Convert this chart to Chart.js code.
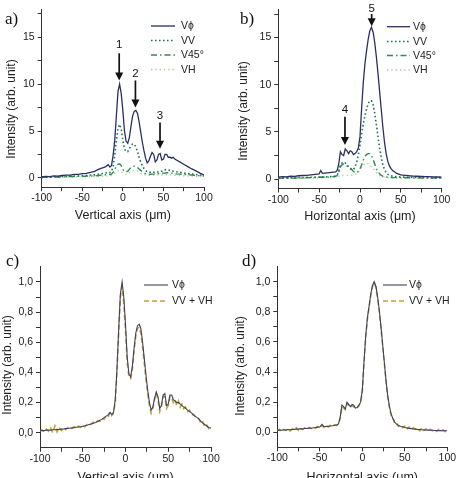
<!DOCTYPE html>
<html>
<head>
<meta charset="utf-8">
<script src="https://cdn.jsdelivr.net/npm/chart.js@4.4.1/dist/chart.umd.min.js"></script>
<style>
  html, body { margin: 0; padding: 0; background: #fff; width: 460px; height: 478px; overflow: hidden; }
  .panel { position: absolute; }
  .tag { position: absolute; font: 17px 'Liberation Serif', 'DejaVu Serif', serif; line-height: 17px; color: #111; }
</style>
</head>
<body>
<div class="panel" style="left:0;top:0"><canvas id="ca" width="230" height="240"></canvas></div>
<div class="panel" style="left:230px;top:0"><canvas id="cb" width="230" height="240"></canvas></div>
<div class="panel" style="left:0;top:240px"><canvas id="cc" width="230" height="260"></canvas></div>
<div class="panel" style="left:230px;top:240px"><canvas id="cd" width="230" height="260"></canvas></div>
<div class="tag" style="left:5px;top:10px">a)</div>
<div class="tag" style="left:240px;top:10px">b)</div>
<div class="tag" style="left:6px;top:252px">c)</div>
<div class="tag" style="left:242px;top:252px">d)</div>
<script>
// tick values and labels
const xTicks = [-100, -75, -50, -25, 0, 25, 50, 75, 100];
const xLabels = [-100, -50, 0, 50, 100];
const yTicksAB = [0, 2.5, 5, 7.5, 10, 12.5, 15, 17.5];
const yLabelsAB = [0, 5, 10, 15];
const yTicksCD = [0, 0.1, 0.2, 0.3, 0.4, 0.5, 0.6, 0.7, 0.8, 0.9, 1.0];
const yLabelsCD = [0, 0.2, 0.4, 0.6, 0.8, 1.0];
const yTitle = 'Intensity (arb. unit)';

// a) vertical profile
const aX = [-100,-95,-90,-85,-80,-75,-70,-65,-60,-55,-50,-45,-40,-35,-30,
  -27,-24,-21,-18,
  -16,-14,-12,-10,-8,-6,-4,-2,0,2,4,6,8,10,12,14,16,18,20,22,24,26,28,30,32,34,36,38,40,42,44,46,48,50,52,54,56,58,60,62,64,66,
  70,75,80,85,90,95,100];
const aVphi = [0.1,0.15,0.12,0.2,0.18,0.25,0.28,0.3,0.36,0.38,0.45,0.48,0.58,0.7,0.9,
  1.0,1.1,1.2,1.4,
  1.15,1.3,2.4,4.0,6.6,9.2,10.0,9.0,7.2,5.0,3.9,3.7,4.3,5.5,6.6,7.1,7.2,6.9,6.0,4.9,3.8,2.9,2.1,1.6,1.8,2.3,2.7,2.5,1.7,1.9,2.5,2.6,1.9,2.0,2.5,2.5,2.2,2.2,2.1,2.2,2.0,1.9,
  1.7,1.45,1.2,0.95,0.75,0.5,0.3];
const aVV = [0.05,0.1,0.08,0.12,0.1,0.15,0.14,0.18,0.2,0.2,0.25,0.25,0.3,0.32,0.38,
  0.42,0.48,0.52,0.6,
  0.55,0.7,1.2,2.4,4.0,5.3,5.7,5.2,4.0,3.1,2.8,2.8,3.1,3.4,3.6,3.6,3.3,2.8,2.2,1.7,1.3,1.0,0.8,0.65,0.6,0.6,0.65,0.6,0.55,0.6,0.65,0.7,0.7,0.8,0.85,0.9,0.85,0.8,0.75,0.7,0.7,0.65,
  0.6,0.5,0.45,0.4,0.35,0.3,0.25];
const aV45 = [0.05,0.08,0.06,0.1,0.08,0.12,0.1,0.14,0.13,0.16,0.15,0.18,0.2,0.22,0.25,
  0.28,0.3,0.33,0.35,
  0.36,0.4,0.6,0.9,1.2,1.45,1.5,1.3,0.9,0.7,0.65,0.7,0.9,1.1,1.2,1.25,1.2,1.1,0.95,0.8,0.65,0.55,0.45,0.4,0.4,0.38,0.4,0.4,0.4,0.42,0.45,0.45,0.48,0.5,0.52,0.55,0.55,0.52,0.5,0.48,0.45,0.42,
  0.4,0.36,0.33,0.3,0.25,0.22,0.2];
const aVH = [0.03,0.05,0.04,0.06,0.05,0.07,0.06,0.08,0.08,0.09,0.1,0.1,0.12,0.13,0.15,
  0.16,0.18,0.2,0.22,
  0.22,0.25,0.35,0.5,0.65,0.75,0.75,0.65,0.5,0.4,0.38,0.42,0.55,0.68,0.78,0.8,0.78,0.7,0.6,0.5,0.42,0.35,0.3,0.28,0.27,0.27,0.28,0.28,0.3,0.3,0.32,0.33,0.33,0.35,0.35,0.35,0.34,0.33,0.32,0.3,0.28,0.27,
  0.25,0.22,0.2,0.18,0.15,0.12,0.1];

// b) horizontal profile
const bX = [-100,-95,-90,-85,-80,-75,-70,-65,-60,-55,
  -50,-48,-46,-40,-35,-30,
  -28,-26,-24,-22,-20,-18,-16,-14,-12,-10,-8,-6,-4,-2,0,2,4,6,8,10,12,14,16,18,20,22,24,26,28,30,32,34,36,38,40,
  45,50,55,60,65,70,75,80,85,90,95,100];
const bVphi = [0.2,0.25,0.22,0.3,0.28,0.35,0.38,0.4,0.45,0.5,
  0.55,0.9,0.6,0.65,0.7,0.75,
  0.9,1.6,2.9,2.6,2.5,3.2,3.0,2.7,3.0,2.9,2.6,2.7,2.9,3.3,4.5,7.5,10.2,12.2,13.6,14.8,15.7,16.1,15.6,14.5,13.0,11.2,9.3,7.4,5.5,3.9,2.7,1.9,1.4,1.1,0.9,
  0.6,0.45,0.4,0.35,0.32,0.3,0.28,0.26,0.25,0.24,0.22,0.2];
const bVV = [0.1,0.12,0.1,0.14,0.13,0.16,0.15,0.18,0.2,0.2,
  0.22,0.3,0.23,0.25,0.28,0.3,
  0.4,0.8,1.5,1.7,1.6,1.7,1.5,1.3,1.1,1.0,1.0,1.3,1.8,2.6,3.6,4.8,5.8,6.7,7.4,8.0,8.3,8.3,7.9,7.0,5.8,4.5,3.3,2.3,1.5,1.0,0.7,0.5,0.4,0.35,0.3,
  0.25,0.22,0.2,0.2,0.18,0.18,0.17,0.16,0.16,0.15,0.15,0.15];
const bV45 = [0.08,0.1,0.09,0.12,0.1,0.13,0.12,0.15,0.15,0.17,
  0.18,0.22,0.19,0.2,0.22,0.3,
  0.35,0.7,1.3,1.5,1.6,1.5,1.4,1.3,1.2,1.0,0.8,0.7,0.65,0.8,1.1,1.5,2.0,2.4,2.6,2.7,2.7,2.5,2.1,1.6,1.1,0.8,0.55,0.4,0.3,0.25,0.22,0.2,0.18,0.17,0.16,
  0.15,0.15,0.14,0.14,0.13,0.13,0.12,0.12,0.12,0.11,0.11,0.1];
const bVH = [0.05,0.07,0.06,0.08,0.07,0.09,0.08,0.1,0.1,0.12,
  0.12,0.15,0.13,0.15,0.17,0.2,
  0.22,0.3,0.4,0.42,0.42,0.42,0.4,0.4,0.4,0.42,0.45,0.5,0.6,0.75,0.95,1.2,1.45,1.65,1.7,1.65,1.5,1.3,1.1,0.9,0.7,0.55,0.42,0.33,0.26,0.2,0.17,0.15,0.13,0.12,0.12,
  0.1,0.1,0.1,0.09,0.09,0.09,0.08,0.08,0.08,0.07,0.07,0.07];

// c) normalised vertical profile
const cX = [-100,-97.5,-95,-92.5,-90,-87.5,-85,-82.5,-80,-77.5,-75,-72.5,-70,-67.5,-65,-62.5,-60,-57.5,-55,-52.5,-50,-47.5,-45,-42.5,-40,-37.5,-35,-32.5,-30,-27.5,-25,-22.5,-20,
  -18,-16,-14,-12,-10,-8,-6,-4,-2,0,2,4,6,8,10,12,14,16,18,20,22,24,26,28,30,32,34,36,38,40,42,44,46,48,50,52,54,56,58,60,62,64,66,68,70,
  72.5,75,77.5,80,82.5,85,87.5,90,92.5,95,97.5,100];
const cVphi = [0.012,0.015,0.014,0.016,0.018,0.017,0.02,0.02,0.022,0.021,0.024,0.025,0.027,0.028,0.03,0.032,0.033,0.036,0.038,0.04,0.043,0.046,0.05,0.054,0.058,0.063,0.068,0.075,0.082,0.09,0.1,0.11,0.12,
  0.135,0.12,0.135,0.22,0.42,0.68,0.92,1.0,0.9,0.72,0.5,0.39,0.37,0.44,0.56,0.66,0.71,0.72,0.69,0.6,0.49,0.38,0.28,0.2,0.15,0.17,0.23,0.27,0.24,0.16,0.18,0.25,0.26,0.18,0.19,0.25,0.25,0.22,0.21,0.2,0.2,0.19,0.18,0.17,0.165,
  0.15,0.14,0.13,0.115,0.105,0.095,0.08,0.065,0.055,0.045,0.035,0.03];
const cSum = [0.01,0.02,0.005,0.025,0.01,0.03,0.0,0.045,0.005,0.035,0.015,0.03,0.02,0.035,0.025,0.03,0.04,0.03,0.045,0.035,0.05,0.04,0.055,0.05,0.06,0.07,0.065,0.08,0.075,0.095,0.09,0.115,0.11,
  0.14,0.115,0.13,0.2,0.4,0.66,0.9,0.97,0.86,0.68,0.47,0.37,0.36,0.42,0.54,0.64,0.69,0.7,0.66,0.57,0.46,0.35,0.26,0.18,0.13,0.16,0.22,0.26,0.22,0.14,0.17,0.24,0.24,0.16,0.18,0.24,0.23,0.2,0.22,0.18,0.21,0.17,0.19,0.16,0.17,
  0.14,0.15,0.12,0.12,0.1,0.1,0.07,0.08,0.04,0.05,0.025,0.035];

// d) normalised horizontal profile
const dX = [-100,-97.5,-95,-92.5,-90,-87.5,-85,-82.5,-80,-77.5,-75,-72.5,-70,-67.5,-65,-62.5,-60,-57.5,-55,-52.5,-50,-47.5,-45,-42.5,-40,-37.5,-35,-32.5,-30,
  -28,-26,-24,-22,-20,-18,-16,-14,-12,-10,-8,-6,-4,-2,0,2,4,6,8,10,12,14,16,18,20,22,24,26,28,30,32,34,36,38,40,
  42.5,45,47.5,50,52.5,55,57.5,60,62.5,65,67.5,70,72.5,75,77.5,80,82.5,85,87.5,90,92.5,95,97.5,100];
const dVphi = [0.012,0.014,0.013,0.016,0.015,0.018,0.017,0.02,0.019,0.022,0.021,0.024,0.022,0.026,0.025,0.028,0.027,0.03,0.031,0.034,0.035,0.052,0.037,0.039,0.04,0.042,0.043,0.046,0.048,
  0.055,0.1,0.18,0.17,0.155,0.2,0.185,0.17,0.185,0.18,0.16,0.165,0.18,0.2,0.28,0.47,0.64,0.76,0.84,0.92,0.975,1.0,0.97,0.9,0.81,0.7,0.58,0.46,0.34,0.24,0.17,0.12,0.09,0.07,0.055,
  0.045,0.04,0.036,0.032,0.029,0.026,0.024,0.022,0.021,0.019,0.018,0.017,0.016,0.015,0.014,0.013,0.013,0.012,0.012,0.011,0.011,0.01,0.01,0.01];
const dSum = [0.01,0.02,0.005,0.018,0.012,0.025,0.008,0.02,0.015,0.03,0.012,0.025,0.018,0.03,0.02,0.032,0.025,0.035,0.028,0.038,0.03,0.045,0.032,0.042,0.035,0.046,0.04,0.05,0.045,
  0.06,0.09,0.17,0.16,0.15,0.19,0.18,0.165,0.175,0.17,0.155,0.16,0.175,0.2,0.27,0.46,0.63,0.75,0.83,0.91,0.97,0.99,0.965,0.89,0.8,0.69,0.57,0.45,0.33,0.23,0.16,0.11,0.1,0.06,0.065,
  0.04,0.05,0.03,0.04,0.02,0.035,0.015,0.03,0.02,0.025,0.01,0.028,0.012,0.022,0.005,0.02,0.01,0.018,0.005,0.02,0.008,0.015,0.005,0.012];

Chart.defaults.font.family = "'Liberation Sans', Arial, sans-serif";
Chart.defaults.color = '#222';

const pts = (xs, ys) => xs.map((x, i) => ({ x, y: ys[i] }));

// line styles
const sPhi = { borderColor: '#2c2f63', borderWidth: 1.3, borderDash: [] };
const sVV = { borderColor: '#1f7752', borderWidth: 1.6, borderDash: [1.6, 2.4] };
const s45 = { borderColor: '#2f8c52', borderWidth: 1.4, borderDash: [6, 3, 1.5, 3] };
const sVH = { borderColor: '#9fcf95', borderWidth: 1.3, borderDash: [1.3, 3] };
const sPhi2 = { borderColor: '#3d4262', borderWidth: 1.1, borderDash: [] };
const sSum = { borderColor: '#c4a03c', borderWidth: 1.6, borderDash: [5, 3] };

function ds(label, data, st) {
  return Object.assign({ label, data, pointRadius: 0, fill: false, tension: 0 }, st);
}

// y title, legend and arrow annotations
const marks = {
  id: 'marks',
  afterDraw(chart, args, o) {
    const { ctx } = chart;
    const { x, y } = chart.scales;
    ctx.save();
    if (o.title) {
      ctx.save();
      ctx.translate(o.title.x, o.title.y);
      ctx.rotate(-Math.PI / 2);
      ctx.fillStyle = '#222';
      ctx.font = "12px 'Liberation Sans', Arial, sans-serif";
      ctx.textAlign = 'center';
      ctx.textBaseline = 'middle';
      ctx.fillText(yTitle, 0, 0);
      ctx.restore();
    }
    (o.arrows || []).forEach(a => {
      const px = x.getPixelForValue(a.x);
      const y0 = y.getPixelForValue(a.from);
      const y1 = y.getPixelForValue(a.to);
      ctx.strokeStyle = '#111';
      ctx.fillStyle = '#111';
      ctx.lineWidth = 1.7;
      ctx.setLineDash([]);
      ctx.beginPath();
      ctx.moveTo(px, y0);
      ctx.lineTo(px, y1 - 6);
      ctx.stroke();
      ctx.beginPath();
      ctx.moveTo(px - 4, y1 - 8);
      ctx.lineTo(px + 4, y1 - 8);
      ctx.lineTo(px, y1);
      ctx.closePath();
      ctx.fill();
      ctx.font = "11.5px 'Liberation Sans', Arial, sans-serif";
      ctx.textAlign = 'center';
      ctx.textBaseline = 'middle';
      ctx.fillText(a.label, px, y.getPixelForValue(a.at));
    });
    const lg = o.legend;
    if (lg) {
      chart.data.datasets.forEach((d, i) => {
        const ly = lg.ys[i];
        ctx.strokeStyle = d.borderColor;
        ctx.lineWidth = d.borderWidth;
        ctx.setLineDash(d.borderDash || []);
        ctx.beginPath();
        ctx.moveTo(lg.x0, ly);
        ctx.lineTo(lg.x1, ly);
        ctx.stroke();
        ctx.setLineDash([]);
        ctx.fillStyle = '#222';
        ctx.font = "10.5px 'Liberation Sans', Arial, sans-serif";
        ctx.textAlign = 'left';
        ctx.textBaseline = 'middle';
        ctx.fillText(d.label, lg.xt, ly + 0.5);
      });
    }
    ctx.restore();
  }
};

function makeChart(id, c) {
  return new Chart(document.getElementById(id), {
    type: 'line',
    data: { datasets: c.datasets },
    options: {
      responsive: false,
      animation: false,
      events: [],
      layout: { padding: { top: c.top, right: c.right, left: 0, bottom: 0 } },
      plugins: {
        legend: { display: false },
        tooltip: { enabled: false },
        marks: { legend: c.legend, arrows: c.arrows || [], title: c.yTitle }
      },
      scales: {
        x: {
          type: 'linear', min: -100, max: 100,
          afterBuildTicks: s => { s.ticks = xTicks.map(v => ({ value: v })); },
          afterFit: s => { s.height = c.xH; },
          ticks: { autoSkip: false, maxRotation: 0, padding: 1, font: { size: 10.5 },
            callback: v => xLabels.includes(v) ? String(v) : '' },
          grid: { drawOnChartArea: false, drawTicks: true, tickLength: 4, color: '#333' },
          border: { display: true, color: '#333', width: 1 },
          title: { display: true, text: c.xTitle, font: { size: 12.5 }, padding: { top: 0, bottom: c.xTitlePad } }
        },
        y: {
          type: 'linear', min: c.yMin, max: c.yMax,
          afterBuildTicks: s => { s.ticks = c.yTicks.map(v => ({ value: v })); },
          afterFit: s => { s.width = c.yW; },
          ticks: { autoSkip: false, padding: 3, font: { size: 10.5 },
            callback: v => c.yLabels.some(l => Math.abs(l - v) < 1e-6) ? c.yFmt(v) : '' },
          grid: { drawOnChartArea: false, drawTicks: true, tickLength: 4, color: '#333' },
          border: { display: true, color: '#333', width: 1 },
          title: { display: false }
        }
      }
    },
    plugins: [marks]
  });
}

const fmtInt = v => String(v);
const fmtComma = v => v.toFixed(1).replace('.', ',');

makeChart('ca', {
  datasets: [ds('Vϕ', pts(aX, aVphi), sPhi), ds('VV', pts(aX, aVV), sVV), ds('V45°', pts(aX, aV45), s45), ds('VH', pts(aX, aVH), sVH)],
  yMin: -1, yMax: 18, yTicks: yTicksAB, yLabels: yLabelsAB, yFmt: fmtInt,
  top: 6.5, right: 26, yW: 41.7, xH: 52.8, xTitlePad: 17,
  yTitle: { x: 12, y: 109 },
  xTitle: 'Vertical axis (μm)',
  legend: { x0: 151, x1: 175, xt: 181, ys: [26, 40.5, 55, 69.5] },
  arrows: [
    { label: '1', x: -4.5, at: 14.2, from: 13.3, to: 10.4 },
    { label: '2', x: 15.5, at: 11.1, from: 10.4, to: 7.5 },
    { label: '3', x: 45.8, at: 6.6, from: 5.9, to: 3.1 }
  ]
});

makeChart('cb', {
  datasets: [ds('Vϕ', pts(bX, bVphi), sPhi), ds('VV', pts(bX, bVV), sVV), ds('V45°', pts(bX, bV45), s45), ds('VH', pts(bX, bVH), sVH)],
  yMin: -1, yMax: 18, yTicks: yTicksAB, yLabels: yLabelsAB, yFmt: fmtInt,
  top: 8.2, right: 18.3, yW: 48.3, xH: 51.5, xTitlePad: 16,
  yTitle: { x: 14, y: 111 },
  xTitle: 'Horizontal axis (μm)',
  legend: { x0: 157, x1: 180, xt: 183, ys: [26.7, 41.5, 55.5, 70] },
  arrows: [
    { label: '4', x: -18.4, at: 7.3, from: 6.6, to: 3.6 },
    { label: '5', x: 14.3, at: 18.1, from: 17.5, to: 16.2 }
  ]
});

makeChart('cc', {
  datasets: [ds('Vϕ', pts(cX, cVphi), sPhi2), ds('VV + VH', pts(cX, cSum), sSum)],
  yMin: -0.1, yMax: 1.1, yTicks: yTicksCD, yLabels: yLabelsCD, yFmt: fmtComma,
  top: 26.9, right: 19, yW: 40, xH: 52.2, xTitlePad: 15,
  yTitle: { x: 8, y: 125 },
  xTitle: 'Vertical axis (μm)',
  legend: { x0: 144, x1: 168, xt: 172, ys: [45, 61] }
});

makeChart('cd', {
  datasets: [ds('Vϕ', pts(dX, dVphi), sPhi2), ds('VV + VH', pts(dX, dSum), sSum)],
  yMin: -0.1, yMax: 1.1, yTicks: yTicksCD, yLabels: yLabelsCD, yFmt: fmtComma,
  top: 26.7, right: 12.7, yW: 47.3, xH: 52.7, xTitlePad: 15,
  yTitle: { x: 11, y: 126 },
  xTitle: 'Horizontal axis (μm)',
  legend: { x0: 153, x1: 177, xt: 179, ys: [45, 61] }
});
</script>
</body>
</html>
